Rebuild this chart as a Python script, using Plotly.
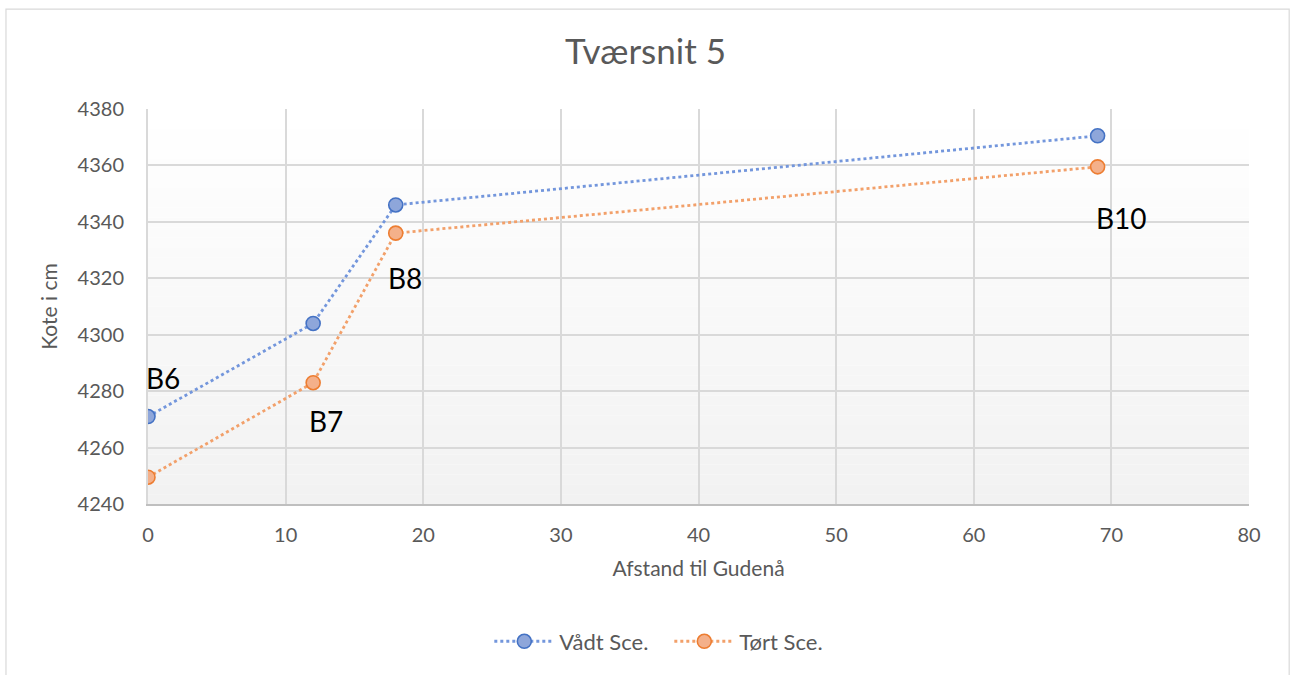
import plotly.graph_objects as go

# Cross-section 5: distance to Gudenå vs. elevation for wet and dry scenarios
afstand = [0, 12, 18, 69]
vaadt = [4271, 4304, 4346, 4370.5]
toert = [4249.5, 4283, 4336, 4359.5]
boringer = ["B6", "B7", "B8", "B10"]

x_ticks = [0, 10, 20, 30, 40, 50, 60, 70, 80]
y_ticks = [4240, 4260, 4280, 4300, 4320, 4340, 4360, 4380]

FONT = "Lato, 'Open Sans', sans-serif"
GREY_TXT = "#595959"
GRID = "#d9d9d9"

fig = go.Figure()

fig.add_trace(go.Scatter(
    x=afstand, y=vaadt, name="Vådt Sce.", mode="lines+markers",
    line=dict(color="#7396dc", width=2.8, dash="dot"),
    marker=dict(size=14, color="#8ea6da", line=dict(color="#4472c4", width=1.6)),
))
fig.add_trace(go.Scatter(
    x=afstand, y=toert, name="Tørt Sce.", mode="lines+markers",
    line=dict(color="#f2a06a", width=2.8, dash="dot"),
    marker=dict(size=14, color="#f4b08a", line=dict(color="#ed7d31", width=1.6)),
))

# Vertical gradient behind the plot area (white at top to light grey at bottom)
n_bands = 40
for i in range(n_bands):
    t = (i + 0.5) / n_bands
    v = round(242 + (255 - 242) * t)
    fig.add_shape(type="rect", xref="x domain", yref="y domain",
                  x0=0, x1=1, y0=i / n_bands, y1=(i + 1) / n_bands,
                  fillcolor=f"rgb({v},{v},{v})", line=dict(width=0), layer="below")

# Outer chart frame
fig.add_shape(type="rect", xref="paper", yref="paper",
              x0=-0.129, x1=1.0365, y0=-0.5, y1=1.253,
              line=dict(color="#d9d9d9", width=1.2), fillcolor="rgba(0,0,0,0)")

# Borehole labels
label_anchor = [(afstand[0], vaadt[0], 15, 39),
                (afstand[1], toert[1], 13, -38),
                (afstand[2], toert[2], 9, -45),
                (afstand[3], toert[3], 24, -51)]
for name, (xv, yv, dx, dy) in zip(boringer, label_anchor):
    fig.add_annotation(x=xv, y=yv, text=name, showarrow=False,
                       xshift=dx, yshift=dy,
                       font=dict(family=FONT, size=28, color="#000000"))

fig.update_layout(
    width=1291, height=675,
    margin=dict(l=148, r=42, t=109, b=171),
    paper_bgcolor="white", plot_bgcolor="rgba(0,0,0,0)",
    title=dict(text="Tværsnit 5", x=0.5, xanchor="center", y=0.923, yanchor="middle",
               font=dict(family=FONT, size=35, color=GREY_TXT)),
    font=dict(family=FONT, color=GREY_TXT, size=20),
    showlegend=True,
    legend=dict(orientation="h", x=0.31, xanchor="left", y=-0.348, yanchor="middle",
                font=dict(family=FONT, size=22, color=GREY_TXT),
                entrywidth=105, itemwidth=60, tracegroupgap=0),
)

fig.update_xaxes(
    range=[0, 80], tickvals=x_ticks, ticktext=[str(v) for v in x_ticks],
    showgrid=True, gridcolor=GRID, gridwidth=2,
    showline=True, linecolor="#bfbfbf", linewidth=2, mirror=False,
    zeroline=False, ticks="", ticklabelstandoff=12,
    tickfont=dict(family=FONT, size=20, color=GREY_TXT),
    title=dict(text="Afstand til Gudenå", standoff=16,
               font=dict(family=FONT, size=21, color=GREY_TXT)),
)
fig.update_yaxes(
    range=[4240, 4380], tickvals=y_ticks, ticktext=[str(v) for v in y_ticks],
    showgrid=True, gridcolor=GRID, gridwidth=2,
    showline=True, linecolor="#d9d9d9", linewidth=2,
    zeroline=False, ticks="", ticklabelstandoff=18,
    tickfont=dict(family=FONT, size=20, color=GREY_TXT),
    title=dict(text="Kote i cm", standoff=14,
               font=dict(family=FONT, size=21, color=GREY_TXT)),
)

fig.write_html("out.html")
